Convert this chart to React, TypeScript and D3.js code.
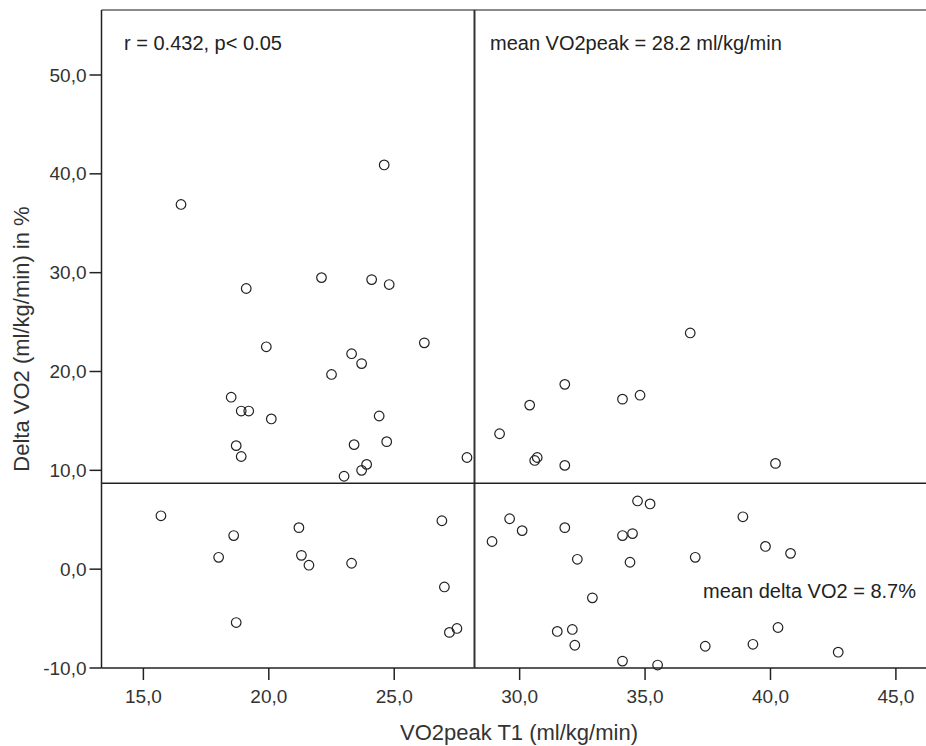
import React from 'react';
import * as d3 from 'd3';

// VO2peak T1 (x) and Delta VO2 % (y)
const vo2peak = [
  16.5, 24.6, 19.1, 22.1, 24.1, 24.8, 19.9, 18.5, 18.9, 19.2, 20.1, 18.7, 18.9,
  23.3, 23.7, 22.5, 26.2, 24.4, 24.7, 23.4, 23.9, 23.7, 23.0, 27.9,
  36.8, 29.2, 30.4, 31.8, 34.1, 34.8, 30.6, 30.7, 31.8, 40.2,
  28.9, 29.6, 30.1, 31.8, 32.3, 32.9, 34.1, 34.5, 34.4, 34.7, 35.2, 37.0,
  38.9, 39.8, 40.8, 31.5, 32.1, 32.2, 34.1, 35.5, 37.4, 39.3, 40.3, 42.7,
  15.7, 18.0, 18.6, 18.7, 21.2, 21.3, 21.6, 23.3, 26.9, 27.0, 27.2, 27.5,
];
const deltaVO2 = [
  36.9, 40.9, 28.4, 29.5, 29.3, 28.8, 22.5, 17.4, 16.0, 16.0, 15.2, 12.5, 11.4,
  21.8, 20.8, 19.7, 22.9, 15.5, 12.9, 12.6, 10.6, 10.0, 9.4, 11.3,
  23.9, 13.7, 16.6, 18.7, 17.2, 17.6, 11.0, 11.3, 10.5, 10.7,
  2.8, 5.1, 3.9, 4.2, 1.0, -2.9, 3.4, 3.6, 0.7, 6.9, 6.6, 1.2,
  5.3, 2.3, 1.6, -6.3, -6.1, -7.7, -9.3, -9.7, -7.8, -7.6, -5.9, -8.4,
  5.4, 1.2, 3.4, -5.4, 4.2, 1.4, 0.4, 0.6, 4.9, -1.8, -6.4, -6.0,
];
const xTicks = [15, 20, 25, 30, 35, 40, 45];
const yTicks = [-10, 0, 10, 20, 30, 40, 50];
const meanVO2peak = 28.2;
const meanDelta = 8.7;

const width = 926, height = 746;
const left = 101.5, right = 926, top = 10, bottom = 668;
const font = '"Liberation Sans", Arial, sans-serif';

const fmt = (v: number) => d3.format('.1f')(v).replace('.', ',').replace('−', '-');

export default function App() {
  const x = d3.scaleLinear().domain([13.33, 46.2]).range([left, right]);
  const y = d3.scaleLinear().domain([-10, 50]).range([bottom, 75]);

  const points = vo2peak.map((v, i) => [v, deltaVO2[i]]);

  return (
    <svg width={width} height={height}
      style={{ position: 'absolute', left: 0, top: 0, background: '#fff' }}>
      {/* frame */}
      <line x1={left} x2={right} y1={top} y2={top} stroke="#8a8a8a" strokeWidth={2} />
      <line x1={left} x2={left} y1={top} y2={bottom} stroke="#222" strokeWidth={1.5} />
      <line x1={left} x2={right} y1={bottom} y2={bottom} stroke="#222" strokeWidth={1.5} />

      {/* x ticks */}
      {xTicks.map(t => (
        <g key={'x' + t} transform={`translate(${x(t)},${bottom})`}>
          <line y2={12} stroke="#222" strokeWidth={1.5} />
          <text y={35} textAnchor="middle" fontFamily={font} fontSize={19} fill="#333">{fmt(t)}</text>
        </g>
      ))}
      {/* y ticks */}
      {yTicks.map(t => (
        <g key={'y' + t} transform={`translate(${left},${y(t)})`}>
          <line x2={-12} stroke="#222" strokeWidth={1.5} />
          <text x={-15} dy="0.35em" textAnchor="end" fontFamily={font} fontSize={19} fill="#333">{fmt(t)}</text>
        </g>
      ))}

      {/* mean lines */}
      <line x1={x(meanVO2peak)} x2={x(meanVO2peak)} y1={top} y2={bottom} stroke="#333" strokeWidth={2} />
      <line x1={left} x2={right} y1={y(meanDelta)} y2={y(meanDelta)} stroke="#222" strokeWidth={1.5} />

      {/* points */}
      {points.map((d, i) => (
        <circle key={i} cx={x(d[0])} cy={y(d[1])} r={4.8} fill="none" stroke="#222" strokeWidth={1.2} />
      ))}

      {/* annotations */}
      <text x={124} y={50} fontFamily={font} fontSize={20} fill="#222">r = 0.432, p&lt; 0.05</text>
      <text x={490} y={50} fontFamily={font} fontSize={20} fill="#222">mean VO2peak = 28.2 ml/kg/min</text>
      <text x={916} y={598} textAnchor="end" fontFamily={font} fontSize={20} fill="#222">mean delta VO2 = 8.7%</text>

      {/* axis titles */}
      <text x={519} y={740} textAnchor="middle" fontFamily={font} fontSize={22} fill="#333">
        VO2peak T1 (ml/kg/min)
      </text>
      <text transform={`translate(29,339) rotate(-90)`} textAnchor="middle"
        fontFamily={font} fontSize={22} fill="#333">
        Delta VO2 (ml/kg/min) in %
      </text>
    </svg>
  );
}
